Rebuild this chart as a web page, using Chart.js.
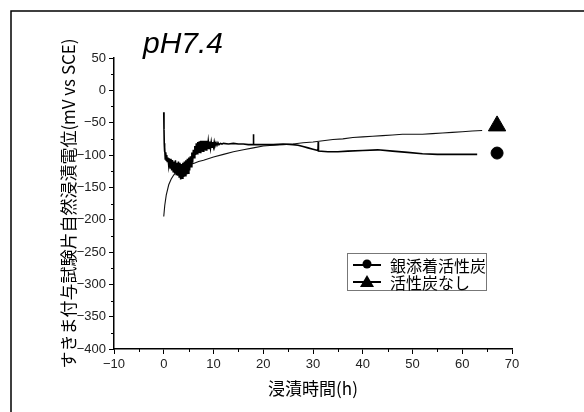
<!DOCTYPE html>
<html>
<head>
<meta charset="utf-8">
<script src="https://cdn.jsdelivr.net/npm/chart.js@4.4.1/dist/chart.umd.min.js"></script>
<style>
  html, body { margin: 0; padding: 0; background: #fff; }
  canvas { display: block; }
</style>
</head>
<body>
<canvas id="potentialChart" width="584" height="412"></canvas>
<script>
// 銀添着活性炭 (circle)
const hoursAg = [0, 0.05, 0.1, 0.15, 0.2, 0.3, 0.4, 0.5, 0.6, 0.7, 0.85, 1.0, 1.15, 1.3, 1.45, 1.6, 1.75, 1.9,
    2.05, 2.2, 2.35, 2.5, 2.65, 2.8, 2.95, 3.1, 3.25, 3.4, 3.55, 3.7, 3.85, 4.0, 4.15, 4.3, 4.45, 4.6, 4.75, 4.9,
    5.05, 5.2, 5.35, 5.5, 5.65, 5.8, 5.95, 6.1, 6.25, 6.4, 6.55, 6.7, 6.85, 7.0, 7.15, 7.3, 7.45, 7.6, 7.75, 7.9,
    8.05, 8.2, 8.35, 8.5, 8.65, 8.8, 8.95, 9.1, 9.25, 9.4, 9.55, 9.7, 9.85, 10.0, 10.15, 10.3, 10.5, 10.7, 10.9,
    11.1, 11.4, 11.7, 12, 13, 14, 15, 16, 17, 18, 18, 18.1, 20, 22, 24, 26, 27, 28, 29, 30, 31, 31.05, 31.1,
    33, 35, 37, 40, 43, 46, 49, 52, 55, 58, 61, 63];
const potentialAg = [-34, -60, -82, -95, -88, -106, -96, -108, -100, -110, -104, -116, -105, -120, -106, -124, -108, -126,
    -110, -128, -108, -130, -112, -132, -110, -134, -112, -138, -114, -136, -112, -134, -110, -132, -108, -130, -106, -128,
    -104, -124, -102, -118, -96, -112, -92, -104, -86, -100, -82, -98, -80, -97, -79, -96, -78, -95, -78, -94,
    -78, -93, -78, -92, -78, -91, -79, -90, -79, -89, -80, -88, -80, -87, -80, -86, -81, -85, -81,
    -84, -82, -83, -82, -83, -82, -83, -83, -84, -84, -68, -84, -84, -84, -83, -84, -85, -87, -89, -91, -93, -80, -94,
    -95, -95, -94, -93, -92, -94, -96, -98, -99, -99, -99, -99];

// 活性炭なし (triangle)
const hoursNone = [0, 0.2, 0.5, 1, 1.5, 2, 2.5, 3, 4, 5, 6, 7, 8, 10, 12, 14, 16, 18, 20, 22, 24, 26, 28, 30,
    32, 34, 36, 38, 40, 42, 44, 46, 48, 50, 52, 54, 56, 58, 60, 62, 64];
const potentialNone = [-195, -178, -162, -146, -137, -131, -126, -123, -118, -115, -113, -110, -108, -103, -99, -95, -92, -89, -86, -85, -84, -83, -81, -80,
    -78, -76, -75, -73, -72, -71, -70, -69, -68, -68, -68, -67, -66, -65, -64, -63, -62];

// end markers
const markerHour = [67];
const markerAg = [-97];
const markerNone = [-55];

const xTicks = [-10, 0, 10, 20, 30, 40, 50, 60, 70];
const yTicks = [50, 0, -50, -100, -150, -200, -250, -300, -350, -400];

const labels = ['銀添着活性炭', '活性炭なし'];

const cjk = "'Noto Sans CJK JP', 'Noto Sans', sans-serif";
const sans = "'Liberation Sans', Arial, sans-serif";

const toPoints = (xs, ys) => xs.map((x, i) => ({ x: x, y: ys[i] }));
const minus = v => String(v).replace('-', '\u2212');

// frame, title, minor ticks and legend
const decorPlugin = {
    id: 'decor',
    beforeDraw(chart) {
        const c = chart.ctx;
        c.save();
        c.fillStyle = '#fff';
        c.fillRect(0, 0, chart.width, chart.height);
        c.strokeStyle = '#000';
        c.lineWidth = 1.5;
        c.beginPath();
        c.moveTo(11, chart.height);
        c.lineTo(11, 11);
        c.lineTo(chart.width, 11);
        c.stroke();
        c.restore();
    },
    afterDraw(chart) {
        const c = chart.ctx;
        const xs = chart.scales.x, ys = chart.scales.y;
        c.save();
        c.strokeStyle = '#000';
        c.lineWidth = 1;
        c.beginPath();
        for (let v = -5; v < 70; v += 10) {
            const px = Math.round(xs.getPixelForValue(v)) + 0.5;
            c.moveTo(px, xs.top);
            c.lineTo(px, xs.top + 3);
        }
        for (let v = 25; v > -400; v -= 50) {
            const py = Math.round(ys.getPixelForValue(v)) + 0.5;
            c.moveTo(ys.right, py);
            c.lineTo(ys.right - 3, py);
        }
        c.stroke();

        // title
        c.fillStyle = '#000';
        c.font = 'italic 30px ' + sans;
        c.textBaseline = 'alphabetic';
        c.fillText('pH7.4', 143, 53);

        // legend
        c.fillStyle = '#fff';
        c.fillRect(347, 253, 139, 37);
        c.strokeStyle = '#777';
        c.lineWidth = 1;
        c.strokeRect(347.5, 253.5, 139, 37);
        c.font = '16px ' + cjk;
        c.textBaseline = 'middle';
        labels.forEach((text, i) => {
            const y = 265 + i * 17;
            c.strokeStyle = '#000';
            c.lineWidth = 2;
            c.beginPath();
            c.moveTo(353, y);
            c.lineTo(381, y);
            c.stroke();
            c.fillStyle = '#000';
            c.beginPath();
            if (i === 0) {
                c.arc(367, y - 1, 4.5, 0, Math.PI * 2);
            } else {
                c.moveTo(367, y - 7);
                c.lineTo(360, y + 5);
                c.lineTo(374, y + 5);
                c.closePath();
            }
            c.fill();
            c.fillText(text, 390, y + 1);
        });
        c.restore();
    }
};

document.addEventListener('DOMContentLoaded', () => {
    const ctx = document.getElementById('potentialChart').getContext('2d');
    const potentialChart = new Chart(ctx, {
        type: 'scatter',
        data: {
            datasets: [{
                label: labels[0],
                data: toPoints(hoursAg, potentialAg),
                showLine: true,
                borderColor: '#000',
                borderWidth: 1.6,
                pointRadius: 0,
                tension: 0
            }, {
                label: labels[1],
                data: toPoints(hoursNone, potentialNone),
                showLine: true,
                borderColor: '#111',
                borderWidth: 1.1,
                pointRadius: 0,
                tension: 0
            }, {
                label: 'markerAg',
                data: toPoints(markerHour, markerAg),
                pointStyle: 'circle',
                pointRadius: 6,
                backgroundColor: '#000',
                borderColor: '#000'
            }, {
                label: 'markerNone',
                data: toPoints(markerHour, markerNone),
                pointStyle: 'triangle',
                pointRadius: 10,
                backgroundColor: '#000',
                borderColor: '#000'
            }]
        },
        options: {
            responsive: false,
            animation: false,
            devicePixelRatio: 1,
            layout: {
                padding: { top: 58, right: 72, left: 0, bottom: 0 }
            },
            plugins: {
                legend: { display: false },
                tooltip: { enabled: false }
            },
            scales: {
                x: {
                    type: 'linear',
                    min: -10,
                    max: 70,
                    afterFit: s => { s.height = 63; },
                    afterBuildTicks: s => { s.ticks = xTicks.map(v => ({ value: v })); },
                    border: { display: true, color: '#000', width: 1.5 },
                    grid: { display: true, drawOnChartArea: false, drawTicks: true, tickLength: 5, color: '#000' },
                    ticks: {
                        color: '#222',
                        padding: 3,
                        maxRotation: 0,
                        font: { family: sans, size: 13 },
                        callback: minus
                    },
                    title: {
                        display: true,
                        text: '浸漬時間(h)',
                        color: '#000',
                        font: { family: cjk, size: 17 },
                        padding: { top: 0, bottom: 13 }
                    }
                },
                y: {
                    type: 'linear',
                    min: -400,
                    max: 50,
                    afterFit: s => { s.width = 114; },
                    afterBuildTicks: s => { s.ticks = yTicks.map(v => ({ value: v })); },
                    border: { display: true, color: '#000', width: 1.5 },
                    grid: { display: true, drawOnChartArea: false, drawTicks: true, tickLength: 5, color: '#000' },
                    ticks: {
                        color: '#222',
                        padding: 3,
                        font: { family: sans, size: 13 },
                        callback: minus
                    },
                    title: {
                        display: true,
                        text: 'すきま付与試験片自然浸漬電位(mV vs SCE)',
                        color: '#000',
                        font: { family: cjk, size: 17 },
                        padding: { top: 58, bottom: 0 }
                    }
                }
            }
        },
        plugins: [decorPlugin]
    });
});
</script>
</body>
</html>
